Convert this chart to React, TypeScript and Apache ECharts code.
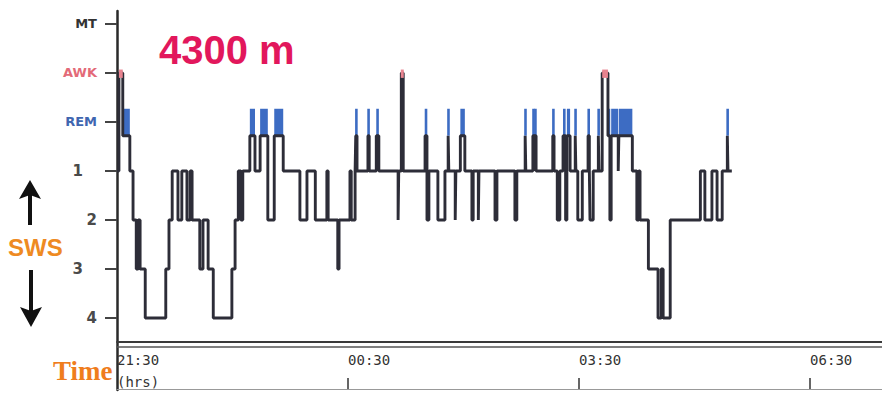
import React, { useEffect, useRef } from "react";
import * as echarts from "echarts";

// ---- data ----
const stageNames = ["4", "3", "2", "1", "REM", "AWK", "MT"]; // index = level on y axis
const stageTickValues = [0, 1, 2, 3, 4, 5, 6];
const timeTickValues = [0, 180, 360, 540]; // minutes after 21:30
const timeTickLabels = ["21:30\n(hrs)", "00:30", "03:30", "06:30"];
const timeTickMarks = [180, 360, 540];

const epochStartMin = [
  0, 1.5, 4.5, 10, 12.5, 15, 16.5, 18, 22, 38, 40.5, 43, 47.5, 50.5, 54.5, 57, 58.5, 64.5, 67, 71,
  75, 89.5, 92, 94.5, 96.5, 98, 103.5, 107.5, 111.5, 117.5, 122.5, 129.5, 142.5, 148, 154.5, 163.5,
  164.5, 172, 173, 181.5, 182.5, 185.5, 186, 187, 195.5, 196.5, 202, 204, 219, 219.5, 221.5, 223,
  240, 241.5, 243, 250, 255.5, 258, 258.5, 263.5, 264, 267.5, 271, 276.5, 277.5, 281.5, 282, 294.5,
  296, 310, 311.5, 318, 318.5, 324, 325, 325.5, 326.5, 339.5, 340.5, 343, 345, 347.5, 349.5, 350.5,
  353, 357, 357.5, 359, 362.5, 367, 368, 368.5, 371, 375, 375.5, 378, 382.5, 384, 385, 390.5, 391,
  401.5, 405, 406.5, 407.5, 414, 421.5, 424, 425.5, 431, 454.5, 458, 463.5, 467.5, 471.5, 475.5, 476,
];
const epochStage = [
  "1", "AWK", "REM", "1", "2", "3", "2", "3", "4", "3", "2", "1", "2", "1", "2", "1", "2", "3", "2", "3",
  "4", "3", "2", "1", "2", "1", "REM", "1", "REM", "2", "REM", "1", "2", "1", "2", "1",
  "2", "3", "2", "1", "2", "1", "REM", "1", "REM", "1", "REM", "1", "2", "1", "AWK", "1",
  "REM", "2", "1", "2", "1", "REM", "1", "2", "1", "REM", "1", "2", "1", "2", "1", "2",
  "1", "2", "1", "REM", "1", "REM", "1", "REM", "1", "REM", "1", "2", "1", "REM", "2", "REM",
  "1", "REM", "1", "2", "1", "REM", "1", "2", "1", "REM", "1", "AWK", "REM", "2", "REM", "1", "REM",
  "1", "2", "1", "2", "3", "4", "3", "4", "2", "1", "2", "1", "2", "1", "REM", "1",
];
const recordEndMin = 479;

const altitudeText = "4300 m";
const swsText = "SWS";
const timeText = "Time";

// ---- layout constants ----
const X_MAX = 596;
const Y_MIN = -1.449;
const Y_MAX = 6.245;
const REM_LOW = 3.72;
const REM_HIGH = 4.27;

const level = (s: string) => stageNames.indexOf(s);

function buildLine() {
  const pts: number[][] = epochStartMin.map((t, i) => [
    t,
    epochStage[i] === "REM" ? REM_LOW : level(epochStage[i]),
  ]);
  pts.push([recordEndMin, pts[pts.length - 1][1]]);
  return pts;
}

function segmentsOf(name: string) {
  const out: number[][] = [];
  epochStartMin.forEach((t, i) => {
    if (epochStage[i] === name) {
      const e = i + 1 < epochStartMin.length ? epochStartMin[i + 1] : recordEndMin;
      out.push([t, e, level(name)]);
    }
  });
  return out;
}

const labelRich = {
  mt: { color: "#333", fontSize: 13, fontWeight: "bold", fontFamily: "DejaVu Sans" },
  awk: { color: "#e36a78", fontSize: 13, fontWeight: "bold", fontFamily: "DejaVu Sans" },
  rem: { color: "#3f66b0", fontSize: 13, fontWeight: "bold", fontFamily: "DejaVu Sans" },
  n: { color: "#4a4a4a", fontSize: 15, fontWeight: "bold", fontFamily: "DejaVu Sans" },
  ns: { color: "#4a4a4a", fontSize: 15, fontWeight: "bold", fontFamily: "DejaVu Sans", padding: [0, 14, 0, 0] },
};

export default function App() {
  const ref = useRef<HTMLDivElement>(null);
  useEffect(() => {
    if (!ref.current) return;
    const chart = echarts.init(ref.current, undefined, { renderer: "svg" });
    const gridBox = { left: 117, right: 0, top: 11, bottom: 4, outerBoundsMode: "none" };
    const option: any = {
      animation: false,
      backgroundColor: "#ffffff",
      grid: [gridBox, { ...gridBox }],
      xAxis: [
        {
          gridIndex: 0,
          type: "value",
          min: 0,
          max: X_MAX,
          position: "bottom",
          offset: -48,
          axisLine: { show: true, onZero: false, lineStyle: { color: "#3a3a3a", width: 2 } },
          axisTick: { show: false },
          splitLine: { show: false },
          axisLabel: {
            customValues: timeTickValues,
            formatter: (v: number) => {
              const i = timeTickValues.indexOf(v);
              return i >= 0 ? timeTickLabels[i] : "";
            },
            align: "left",
            margin: 7,
            lineHeight: 22,
            fontFamily: "DejaVu Sans Mono",
            fontSize: 14,
            color: "#333",
          },
        },
        {
          gridIndex: 0,
          type: "value",
          min: 0,
          max: X_MAX,
          position: "top",
          offset: -336,
          axisLine: { show: true, onZero: false, lineStyle: { color: "#555", width: 1.5 } },
          axisTick: { show: false },
          axisLabel: { show: false },
          splitLine: { show: false },
        },
        {
          gridIndex: 1,
          type: "value",
          min: 0,
          max: X_MAX,
          position: "bottom",
          offset: -1,
          axisLine: { show: true, onZero: false, lineStyle: { color: "#999", width: 1 } },
          axisTick: {
            show: true,
            inside: true,
            length: 11,
            customValues: timeTickMarks,
            lineStyle: { color: "#333", width: 1.5 },
          },
          axisLabel: { show: false },
          splitLine: { show: false },
        },
      ],
      yAxis: [
        {
          gridIndex: 0,
          type: "value",
          min: Y_MIN - 0.02,
          max: Y_MAX + 0.02,
          axisLine: { show: true, onZero: false, lineStyle: { color: "#2a2a2a", width: 2.5 } },
          axisTick: {
            show: true,
            length: 12,
            customValues: stageTickValues,
            lineStyle: { color: "#444", width: 2 },
          },
          splitLine: { show: false },
          axisLabel: {
            customValues: stageTickValues,
            margin: 20,
            formatter: (v: number) => {
              const s = stageNames[v];
              if (s === undefined) return "";
              if (s === "MT") return "{mt|MT}";
              if (s === "AWK") return "{awk|AWK}";
              if (s === "REM") return "{rem|REM}";
              if (s === "1" || s === "3") return "{ns|" + s + "}";
              return "{n|" + s + "}";
            },
            rich: labelRich,
          },
        },
        { gridIndex: 1, type: "value", min: Y_MIN - 0.02, max: Y_MAX + 0.02, show: false },
      ],
      series: [
        {
          type: "custom",
          name: "REM",
          xAxisIndex: 0,
          yAxisIndex: 0,
          z: 2,
          encode: { x: [0, 1], y: 2 },
          data: segmentsOf("REM"),
          renderItem: (params: any, api: any) => {
            const a = api.coord([api.value(0), REM_HIGH]);
            const b = api.coord([api.value(1), REM_LOW]);
            const w = Math.max(b[0] - a[0], 2.6);
            const cx = (a[0] + b[0]) / 2;
            return {
              type: "rect",
              shape: { x: cx - w / 2, y: a[1], width: w, height: b[1] - a[1] },
              style: { fill: "#3d6cc3" },
            };
          },
        },
        {
          type: "line",
          name: "Hypnogram",
          xAxisIndex: 0,
          yAxisIndex: 0,
          z: 3,
          step: "end",
          symbol: "none",
          lineStyle: { color: "#2d2d38", width: 2.9 },
          data: buildLine(),
        },
        {
          type: "custom",
          name: "AWK",
          xAxisIndex: 0,
          yAxisIndex: 0,
          z: 4,
          encode: { x: [0, 1], y: 2 },
          data: segmentsOf("AWK"),
          renderItem: (params: any, api: any) => {
            const a = api.coord([api.value(0), api.value(2) + 0.07]);
            const b = api.coord([api.value(1), api.value(2) - 0.1]);
            const w = Math.max(b[0] - a[0], 3);
            const cx = (a[0] + b[0]) / 2;
            return {
              type: "rect",
              shape: { x: cx - w / 2, y: a[1], width: w, height: b[1] - a[1] },
              style: { fill: "#e8838f" },
            };
          },
        },
      ],
      graphic: [
        {
          type: "text",
          x: 159,
          y: 50,
          style: {
            text: altitudeText,
            fill: "#e2175c",
            font: 'bold 40px "Liberation Sans", Arial, sans-serif',
            verticalAlign: "middle",
          },
        },
        {
          type: "text",
          x: 8,
          y: 247,
          style: {
            text: swsText,
            fill: "#ee8a22",
            font: 'bold 24px "Liberation Sans", Arial, sans-serif',
            verticalAlign: "middle",
          },
        },
        {
          type: "text",
          x: 53,
          y: 371,
          style: {
            text: timeText,
            fill: "#ef7d1d",
            font: 'bold 27px "Liberation Serif", "Times New Roman", serif',
            verticalAlign: "middle",
          },
        },
        { type: "line", shape: { x1: 30, y1: 225, x2: 30, y2: 194 }, style: { stroke: "#111", lineWidth: 4 } },
        { type: "polygon", shape: { points: [[19, 199], [30, 180], [41, 199], [30, 195]] }, style: { fill: "#111" } },
        { type: "line", shape: { x1: 31, y1: 270, x2: 31, y2: 312 }, style: { stroke: "#111", lineWidth: 4 } },
        { type: "polygon", shape: { points: [[20, 307], [31, 327], [42, 307], [31, 311]] }, style: { fill: "#111" } },
      ],
    };
    chart.setOption(option);
    return () => chart.dispose();
  }, []);
  return (
    <div
      ref={ref}
      style={{ position: "absolute", left: 0, top: 0, width: 882, height: 394, background: "#fff" }}
    />
  );
}
